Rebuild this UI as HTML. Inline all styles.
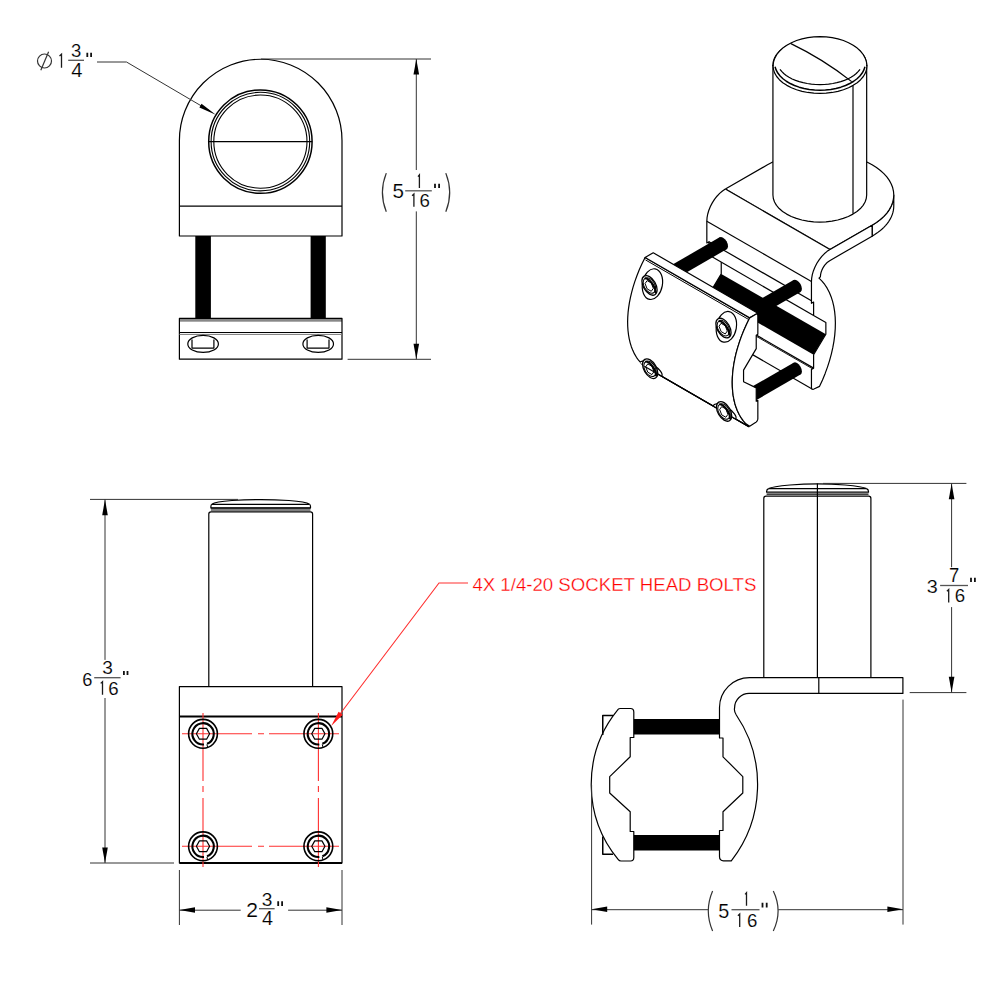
<!DOCTYPE html>
<html><head><meta charset="utf-8">
<style>
html,body{margin:0;padding:0;background:#fff;width:1000px;height:1000px;overflow:hidden}
svg{display:block}
.o{fill:none;stroke:#000;stroke-width:1.2;stroke-linejoin:round}
.d{fill:none;stroke:#333;stroke-width:1}
.r{fill:none;stroke:#ff3030;stroke-width:1.1}
.ar{fill:#000;stroke:none}
.blk{fill:#000;stroke:none}
text{font-family:"Liberation Sans",sans-serif;fill:#222}
.t1{fill:none;stroke:#1a1a1a;stroke-width:1.3;stroke-linejoin:miter}
.tb{stroke:#555;stroke-width:1.3}
.tq{stroke:#111;stroke-width:1.8}
.tp{fill:none;stroke:#333;stroke-width:1.2}
</style></head>
<body>
<svg width="1000" height="1000" viewBox="0 0 1000 1000">
<defs>
<g id="bolt">
    <circle class="o" cx="0" cy="0" r="14.4" style="stroke-width:1.6"/>
    <path class="o" d="M4,10 A10.7,10.7 0 1 0 1,10.7" style="stroke-width:2.1"/>
    <path class="o" d="M3.9,10.6 L4.7,13.6" style="stroke-width:1"/>
    <path class="o" d="M-6.6,0 L-3.6,-5.4 L3.6,-5.4 L6.6,0 L3.6,5.4 L-3.6,5.4 Z" style="stroke-width:1.2"/>
  </g>
  <g id="isocb">
    <ellipse cx="0" cy="0" rx="10" ry="15.5" transform="rotate(10)" class="o" style="fill:#fff;stroke-width:1.2"/>
  </g>
  <g id="isohead">
    <ellipse cx="0" cy="0" rx="10.75" ry="6.2" transform="translate(-2.9,1.25) rotate(60)" class="o" style="fill:#fff;stroke-width:1.3"/>
    <path d="M-8.3,-5.5 A10.75,6.2 60 0 1 2.4,9.2" transform="translate(0.6,-0.4)" class="o" style="stroke-width:2"/>
    <ellipse cx="0" cy="0" rx="8.4" ry="5.3" transform="translate(-3.0,1.3) rotate(60)" class="o" style="stroke-width:1"/>
    <path d="M0.94,4.19 L-1.13,7.14 L-5.27,4.75 L-7.34,-0.59 L-5.27,-3.54 L-1.13,-1.15 Z" class="o" style="stroke-width:1"/>
  </g>
</defs>


<!-- ================= VIEW 1 : top-left front ================= -->
<g id="v1">
  <path class="o" d="M179.4,236 V140.5 A81.3,81.3 0 0 1 342,140.5 V236 Z"/>
  <line class="o" x1="179.4" y1="206.2" x2="342" y2="206.2"/>
  <circle class="o" cx="260.4" cy="141.6" r="51.7" style="stroke-width:1.5"/>
  <circle class="o" cx="260.4" cy="141.6" r="49.3" style="stroke-width:1.1"/>
  <circle class="o" cx="260.4" cy="141.6" r="46.6" style="stroke-width:1.1"/>
  <line class="o" x1="208.7" y1="141.6" x2="312.1" y2="141.6"/>
  <!-- rods -->
  <rect class="blk" x="195.3" y="236" width="15.6" height="82.5"/>
  <rect class="blk" x="310.6" y="236" width="15.2" height="82.5"/>
  <!-- lower plate -->
  <rect x="179.4" y="318.4" width="162.6" height="3.3" fill="#888" stroke="none"/>
  <rect class="o" x="179.4" y="318.4" width="162.6" height="40.8"/>
  <line class="o" x1="179.4" y1="332.5" x2="342" y2="332.5"/>
  <line class="o" x1="179.4" y1="334.4" x2="342" y2="334.4" style="stroke:#777;stroke-width:1"/>
  <ellipse class="o" cx="203.1" cy="343.9" rx="15.3" ry="8.5"/>
  <path class="o" d="M192,339.4 V348.1 H213.9 V339.4"/>
  <ellipse class="o" cx="318.2" cy="343.9" rx="15.3" ry="8.5"/>
  <path class="o" d="M307.1,339.4 V348.1 H329 V339.4"/>
  <!-- dims -->
  <line class="d" x1="261" y1="59" x2="431" y2="59"/>
  <line class="d" x1="347.6" y1="359.3" x2="431" y2="359.3"/>
  <line class="d" x1="416.3" y1="59" x2="416.3" y2="170"/>
  <line class="d" x1="416.3" y1="211.4" x2="416.3" y2="359.3"/>
  <path class="ar" d="M416.3,59 L419.1,74.5 L413.5,74.5 Z"/>
  <path class="ar" d="M416.3,359.3 L419.1,343.8 L413.5,343.8 Z"/>
  <!-- leader -->
  <path class="d" d="M97,62 H126.5 L210,111"/>
  <path class="ar" d="M215.8,114.7 L201.5,103.7 L199.4,107.6 Z"/>
</g>

<!-- ================= VIEW 3 : bottom-left front ================= -->
<g id="v3">
  <path class="o" d="M212,504.2 Q215,501.6 232,500.5 Q260.7,498.7 289,500.5 Q306,501.6 309.4,504.2"/>
  <path class="o" d="M212,504.3 H309.4"/>
  <path class="o" d="M212,504.3 Q210.9,504.8 210.9,506.6 V507.9 H310.5 V506.6 Q310.5,504.8 309.4,504.3"/>
  <path d="M210.9,508.2 H310.5 M210.9,510 H310.5" stroke="#000" stroke-width="1" fill="none"/>
  <path class="o" d="M208.8,686.6 V514 Q208.8,511.8 211,511.8 H310.5 Q312.6,511.8 312.6,514 V686.6"/>
  <rect class="o" x="179.4" y="686.6" width="162.6" height="176.4"/>
  <line class="o" x1="179.4" y1="716.6" x2="342" y2="716.6" style="stroke-width:2"/>
  <line class="o" x1="179.4" y1="863" x2="342" y2="863" style="stroke-width:2"/>
  <!-- red center lines -->
  <path class="r" d="M182,733.8 H252 M258,733.8 H264 M269,733.8 H339"/>
  <path class="r" d="M182,846.3 H252 M258,846.3 H264 M269,846.3 H339"/>
  <path class="r" d="M203,713 V781 M203,786 V792 M203,798 V867"/>
  <path class="r" d="M318.4,713 V781 M318.4,786 V792 M318.4,798 V867"/>
  <!-- bolts -->
  
  <use href="#bolt" transform="translate(203,733.8)"/>
  <use href="#bolt" transform="translate(318.35,733.8)"/>
  <use href="#bolt" transform="translate(203,846.3)"/>
  <use href="#bolt" transform="translate(318.35,846.3)"/>
  <!-- red leader -->
  <path class="r" d="M468,583 H439 L337,718"/>
  <path d="M331.2,726 L338.6,711.7 L342.7,714.8 Z" fill="#ff1a1a"/>
  <!-- dims -->
  <line class="d" x1="90" y1="499.4" x2="238" y2="499.4"/>
  <line class="d" x1="90" y1="863" x2="174" y2="863"/>
  <line class="d" x1="105" y1="499.4" x2="105" y2="659.9"/>
  <line class="d" x1="105" y1="698" x2="105" y2="863"/>
  <path class="ar" d="M105,499.4 L107.8,515.2 L102.2,515.2 Z"/>
  <path class="ar" d="M105,863 L107.8,847.5 L102.2,847.5 Z"/>
  <line class="d" x1="179.4" y1="870" x2="179.4" y2="925"/>
  <line class="d" x1="342" y1="870" x2="342" y2="925"/>
  <line class="d" x1="179.4" y1="910.2" x2="240.7" y2="910.2"/>
  <line class="d" x1="288.1" y1="910.2" x2="342" y2="910.2"/>
  <path class="ar" d="M179.4,910 L195,907.2 L195,912.8 Z"/>
  <path class="ar" d="M342,910 L326.4,907.2 L326.4,912.8 Z"/>
</g>

<!-- ================= VIEW 4 : side view ================= -->
<g id="v4">
  <path class="o" d="M768.6,488.6 Q772,486.6 790,485 Q817.5,482.6 845,485 Q863,486.6 866.5,488.6"/>
  <path class="o" d="M768.6,488.6 H866.5"/>
  <path class="o" d="M768.6,488.6 Q766.6,489.4 766.6,491.4 V492.2 H868.5 V491.4 Q868.5,489.4 866.5,488.6"/>
  <path d="M766.6,494.2 H868.5" stroke="#000" stroke-width="1.2" fill="none"/>
  <path class="o" d="M763.8,677.6 V498.4 Q763.8,496.2 766,496.2 H868.6 Q870.9,496.2 870.9,498.4 V677.6"/>
  <line class="o" x1="817.4" y1="483.4" x2="817.4" y2="677.6"/>
  <line class="o" x1="818.8" y1="677.6" x2="818.8" y2="693"/>
  <!-- plate + bend + right jaw -->
  <path class="o" d="M902.9,677.6 H749.5 A30,30 0 0 0 719.5,707.5 V738 H723 V756.8 L742.8,776.6 V793 L723,811.8 V830.5 H719.5 V856.6 Q719.5,860.8 723.5,860.8 H731.3 A124,124 0 0 0 736.3,715 Q733.8,711 734.6,707.8 A14.5,14.5 0 0 1 749.5,693.4 H902.9 Z"/>
  <!-- left jaw -->
  <path class="o" d="M620,708.5 H630.5 Q633.8,708.5 633.8,712 V737.5 H630.2 V756.8 L609.7,776.6 V793 L630.2,811.8 V831.5 H633.8 V857.5 Q633.8,861 630.5,861 H621 Q619.3,861 618.3,859.6 A118,118 0 0 1 617.3,710.4 Q618.3,708.5 620,708.5 Z"/>
  <path class="o" d="M613,715.5 H602.75 V735" style="stroke-width:1.5"/>
  <path class="o" d="M602.75,836.5 V854.25 H613" style="stroke-width:1.5"/>
  <!-- rods -->
  <rect class="blk" x="633.8" y="719" width="85.7" height="15.5"/>
  <rect class="blk" x="633.8" y="835" width="85.7" height="15.5"/>
  <!-- dims -->
  <line class="d" x1="823" y1="483.4" x2="966.4" y2="483.4"/>
  <line class="d" x1="909.7" y1="692.6" x2="966.4" y2="692.6"/>
  <line class="d" x1="951.6" y1="483.4" x2="951.6" y2="567.2"/>
  <line class="d" x1="951.6" y1="607.1" x2="951.6" y2="692.6"/>
  <path class="ar" d="M951.6,483.4 L954.4,499.2 L948.8,499.2 Z"/>
  <path class="ar" d="M951.6,692.6 L954.4,676.8 L948.8,676.8 Z"/>
  <line class="d" x1="591.6" y1="785" x2="591.6" y2="924.6"/>
  <line class="d" x1="903" y1="699.6" x2="903" y2="924.6"/>
  <line class="d" x1="591.6" y1="909.7" x2="708.1" y2="909.7"/>
  <line class="d" x1="778.2" y1="909.7" x2="903" y2="909.7"/>
  <path class="ar" d="M591.6,909.3 L607.2,906.5 L607.2,912.1 Z"/>
  <path class="ar" d="M903,909.3 L887.4,906.5 L887.4,912.1 Z"/>
</g>

<!-- ================= TEXT ================= -->
<g id="txt">
<circle cx="44.5" cy="61" r="7" class="tp"/>
<line x1="40.8" y1="70.3" x2="48.6" y2="51.8" class="tp"/>
<path d="M59.50,55.90 L61.50,54.20 V67.70" class="t1"/>
<line x1="68.20" y1="60.30" x2="84.00" y2="60.30" class="tb"/>
<text transform="translate(70.96,57.32) scale(1.011,1)" style="font-size:18.31px;fill:#000;stroke:#fff;stroke-width:0.15px">3</text>
<text transform="translate(71.20,76.80) scale(1.017,1)" style="font-size:19.86px;fill:#000;stroke:#fff;stroke-width:0.15px">4</text>
<path d="M87.30,52.80 V57.10 M91.10,52.80 V57.10" class="tq"/>
<path d="M386.30,173.10 Q378.50,192.45 386.30,211.80" class="tp"/>
<text transform="translate(392.47,198.41) scale(1.062,1)" style="font-size:19.43px;fill:#000;stroke:#fff;stroke-width:0.15px">5</text>
<path d="M418.00,176.60 L419.40,174.90 V188.00" class="t1"/>
<line x1="405.20" y1="190.80" x2="431.80" y2="190.80" class="tb"/>
<path d="M412.10,195.70 L413.90,194.00 V206.70" class="t1"/>
<text transform="translate(419.47,206.51) scale(1.006,1)" style="font-size:18.59px;fill:#000;stroke:#fff;stroke-width:0.15px">6</text>
<path d="M435.00,183.70 V187.90 M439.10,183.70 V187.90" class="tq"/>
<path d="M445.80,173.10 Q453.60,192.45 445.80,211.80" class="tp"/>
<text transform="translate(82.19,685.51) scale(0.960,1)" style="font-size:19.01px;fill:#000;stroke:#fff;stroke-width:0.15px">6</text>
<text transform="translate(102.13,674.41) scale(1.007,1)" style="font-size:19.01px;fill:#000;stroke:#fff;stroke-width:0.15px">3</text>
<line x1="94.20" y1="677.70" x2="120.60" y2="677.70" class="tb"/>
<path d="M100.70,683.40 L102.50,681.70 V694.70" class="t1"/>
<text transform="translate(108.37,694.51) scale(0.983,1)" style="font-size:19.01px;fill:#000;stroke:#fff;stroke-width:0.15px">6</text>
<path d="M123.90,671.00 V674.90 M127.50,671.00 V674.90" class="tq"/>
<text transform="translate(246.25,916.80) scale(1.070,1)" style="font-size:19.71px;fill:#000;stroke:#fff;stroke-width:0.15px">2</text>
<text transform="translate(261.83,905.51) scale(1.007,1)" style="font-size:19.01px;fill:#000;stroke:#fff;stroke-width:0.15px">3</text>
<line x1="259.00" y1="908.70" x2="274.60" y2="908.70" class="tb"/>
<text transform="translate(262.11,924.90) scale(1.012,1)" style="font-size:19.57px;fill:#000;stroke:#fff;stroke-width:0.15px">4</text>
<path d="M278.20,901.20 V906.00 M282.10,901.20 V906.00" class="tq"/>
<text transform="translate(926.71,592.51) scale(1.041,1)" style="font-size:19.01px;fill:#000;stroke:#fff;stroke-width:0.15px">3</text>
<text transform="translate(949.08,581.60) scale(0.944,1)" style="font-size:19.57px;fill:#000;stroke:#fff;stroke-width:0.15px">7</text>
<line x1="940.10" y1="585.50" x2="968.00" y2="585.50" class="tb"/>
<path d="M946.90,591.30 L948.70,589.60 V602.60" class="t1"/>
<text transform="translate(954.87,602.41) scale(0.983,1)" style="font-size:19.01px;fill:#000;stroke:#fff;stroke-width:0.15px">6</text>
<path d="M971.00,577.70 V581.90 M974.90,577.70 V581.90" class="tq"/>
<path d="M712.60,891.00 Q704.00,910.95 712.60,930.90" class="tp"/>
<text transform="translate(718.31,917.51) scale(1.019,1)" style="font-size:19.43px;fill:#000;stroke:#fff;stroke-width:0.15px">5</text>
<path d="M745.10,894.40 L746.50,892.70 V905.80" class="t1"/>
<line x1="731.50" y1="909.70" x2="759.50" y2="909.70" class="tb"/>
<path d="M737.90,915.70 L739.70,914.00 V927.10" class="t1"/>
<text transform="translate(746.97,926.91) scale(0.976,1)" style="font-size:19.15px;fill:#000;stroke:#fff;stroke-width:0.15px">6</text>
<path d="M762.50,902.80 V907.40 M766.70,902.80 V907.40" class="tq"/>
<path d="M773.30,891.00 Q782.90,910.95 773.30,930.90" class="tp"/>
<text x="472.4" y="591" style="font-size:18.7px;fill:#ff0000;stroke:#fff;stroke-width:0.3px" textLength="284" lengthAdjust="spacingAndGlyphs">4X 1/4-20 SOCKET HEAD BOLTS</text>

</g>

<!-- ================= VIEW 2 : isometric ================= -->
<g id="v2">
<path class="o" d="M872.11,225.19 L874.77,223.57 L877.29,221.87 L879.65,220.09 L881.84,218.25 L883.86,216.34 L885.71,214.38 L887.38,212.36 L888.86,210.29 L890.15,208.18 L891.25,206.04 L892.16,203.87 L892.86,201.67 L893.37,199.45 L893.67,197.22 L893.78,194.99 L893.78,205.98 L893.67,208.22 L893.37,210.45 L892.86,212.66 L892.16,214.86 L891.25,217.04 L890.15,219.18 L888.86,221.29 L887.38,223.35 L885.71,225.37 L883.86,227.34 L881.84,229.24 L879.65,231.09 L877.29,232.86 L874.77,234.56 L872.11,236.18 Z" style="fill:#fff"/>
<path class="o" d="M725.38,189.10 L767.49,164.78 L767.49,164.78 L772.25,162.27 L777.37,160.00 L782.81,158.00 L788.53,156.28 L794.50,154.85 L800.65,153.73 L806.95,152.92 L813.35,152.44 L819.80,152.27 L826.25,152.44 L832.64,152.92 L838.94,153.73 L845.10,154.85 L851.06,156.28 L856.79,158.00 L862.23,160.00 L867.35,162.27 L872.11,164.78 L876.47,167.53 L880.40,170.49 L883.86,173.63 L886.84,176.94 L889.31,180.38 L891.25,183.93 L892.65,187.57 L893.49,191.26 L893.78,194.99 L893.49,198.71 L892.65,202.40 L891.25,206.04 L889.31,209.59 L886.84,213.04 L883.86,216.34 L880.40,219.48 L876.47,222.44 L872.11,225.19 L830.00,249.50 Z" style="fill:#fff"/>
<path class="o" d="M772.93,64.97 L772.93,194.99 L772.93,194.99 L773.33,198.52 L774.52,201.99 L776.50,205.34 L779.21,208.52 L782.61,211.46 L786.66,214.12 L791.27,216.46 L796.36,218.42 L801.86,219.99 L807.67,221.13 L813.68,221.82 L819.80,222.05 L825.92,221.82 L831.93,221.13 L837.73,219.99 L843.23,218.42 L848.33,216.46 L852.94,214.12 L856.98,211.46 L860.39,208.52 L863.10,205.34 L865.07,201.99 L866.27,198.52 L866.67,194.99 L866.67,64.97 L866.67,64.97 L866.27,61.43 L865.07,57.96 L863.10,54.61 L860.39,51.44 L856.98,48.49 L852.94,45.83 L848.33,43.50 L843.23,41.53 L837.73,39.97 L831.93,38.83 L825.92,38.14 L819.80,37.91 L813.68,38.14 L807.67,38.83 L801.86,39.97 L796.36,41.53 L791.27,43.50 L786.66,45.83 L782.61,48.49 L779.21,51.44 L776.50,54.61 L774.52,57.96 L773.33,61.43 L772.93,64.97 Z" style="fill:#fff"/>
<path class="o" d="M773.10,66.00 L773.50,62.16 L774.70,58.39 L776.67,54.75 L779.38,51.30 L782.79,48.10 L786.84,45.21 L791.45,42.68 L796.55,40.54 L802.05,38.84 L807.86,37.60 L813.88,36.85 L820.00,36.60 L826.12,36.85 L832.14,37.60 L837.95,38.84 L843.45,40.54 L848.55,42.68 L853.16,45.21 L857.21,48.10 L860.62,51.30 L863.33,54.75 L865.30,58.39 L866.50,62.16 L866.90,66.00 L866.90,66.00 L866.50,69.58 L865.30,73.09 L863.33,76.49 L860.62,79.70 L857.21,82.68 L853.16,85.37 L848.55,87.74 L843.45,89.73 L837.95,91.31 L832.14,92.47 L826.12,93.17 L820.00,93.40 L813.88,93.17 L807.86,92.47 L802.05,91.31 L796.55,89.73 L791.45,87.74 L786.84,85.37 L782.79,82.68 L779.38,79.70 L776.67,76.49 L774.70,73.09 L773.50,69.58 L773.10,66.00 Z" style="fill:#fff"/>
<path class="o" d="M775.04,66.79 L776.11,69.96 L777.81,73.04 L780.10,75.98 L782.96,78.73 L786.35,81.26 L790.21,83.53 L794.50,85.51 L799.15,87.16 L804.10,88.48 L809.27,89.43 L814.60,90.01 L820.00,90.20 L825.40,90.01 L830.73,89.43 L835.90,88.48 L840.85,87.16 L845.50,85.51 L849.79,83.53 L853.65,81.26 L857.04,78.73 L859.90,75.98 L862.19,73.04 L863.89,69.96 L864.96,66.79" style="stroke-width:1.5"/>
<path class="o" d="M779.97,69.27 L781.66,71.45 L783.74,73.53 L786.20,75.48 L789.01,77.29 L792.15,78.93 L795.57,80.39 L799.24,81.65 L803.13,82.69 L807.19,83.52 L811.39,84.12 L815.67,84.48 L820.00,84.60 L824.33,84.48 L828.61,84.12 L832.81,83.52 L836.87,82.69 L840.76,81.65 L844.43,80.39 L847.85,78.93 L850.99,77.29 L853.80,75.48 L856.26,73.53 L858.34,71.45 L860.03,69.27"/>
<path class="o" d="M772.93,66 V64.97 M866.67,66 V64.97"/>
<path class="o" d="M853,85.5 V213.7"/>
<path class="o" d="M790.9,43.65 Q823,59 851.7,81.6"/>
<path class="o" d="M872.11,225.19 L872.11,236.18"/>
<path d="M725.38,189.02 L722.48,190.96 L827.10,251.37 L830.00,249.43 Z" fill="#fff" stroke="#fff" stroke-width="0.5"/>
<path d="M722.48,190.96 L719.65,193.38 L824.27,253.79 L827.10,251.37 Z" fill="#fff" stroke="#fff" stroke-width="0.5"/>
<path d="M719.65,193.38 L716.96,196.22 L821.58,256.63 L824.27,253.79 Z" fill="#fff" stroke="#fff" stroke-width="0.5"/>
<path d="M716.96,196.22 L714.48,199.41 L819.10,259.81 L821.58,256.63 Z" fill="#fff" stroke="#fff" stroke-width="0.5"/>
<path d="M714.48,199.41 L712.26,202.87 L816.88,263.28 L819.10,259.81 Z" fill="#fff" stroke="#fff" stroke-width="0.5"/>
<path d="M712.26,202.87 L710.37,206.52 L814.99,266.92 L816.88,263.28 Z" fill="#fff" stroke="#fff" stroke-width="0.5"/>
<path d="M710.37,206.52 L708.85,210.26 L813.47,270.67 L814.99,266.92 Z" fill="#fff" stroke="#fff" stroke-width="0.5"/>
<path d="M708.85,210.26 L707.74,214.01 L812.36,274.42 L813.47,270.67 Z" fill="#fff" stroke="#fff" stroke-width="0.5"/>
<path d="M707.74,214.01 L707.06,217.67 L811.68,278.08 L812.36,274.42 Z" fill="#fff" stroke="#fff" stroke-width="0.5"/>
<path d="M707.06,217.67 L706.83,221.15 L811.45,281.56 L811.68,278.08 Z" fill="#fff" stroke="#fff" stroke-width="0.5"/>
<path d="M706.83,221.15 L706.83,242.93 L811.45,303.34 L811.45,281.56 Z" fill="#fff" stroke="#fff" stroke-width="0.5"/>
<path d="M706.83,242.93 L708.99,241.68 L813.61,302.09 L811.45,303.34 Z" fill="#fff" stroke="#fff" stroke-width="0.5"/>
<path d="M708.99,241.68 L708.99,255.10 L813.61,315.51 L813.61,302.09 Z" fill="#fff" stroke="#fff" stroke-width="0.5"/>
<path d="M708.99,255.10 L721.24,262.17 L825.86,322.58 L813.61,315.51 Z" fill="#fff" stroke="#fff" stroke-width="0.5"/>
<path d="M721.24,262.17 L721.24,273.88 L825.86,334.29 L825.86,322.58 Z" fill="#fff" stroke="#fff" stroke-width="0.5"/>
<path d="M721.24,273.88 L708.99,294.37 L813.61,354.78 L825.86,334.29 Z" fill="#fff" stroke="#fff" stroke-width="0.5"/>
<path d="M708.99,294.37 L708.99,307.73 L813.61,368.13 L813.61,354.78 Z" fill="#fff" stroke="#fff" stroke-width="0.5"/>
<path d="M708.99,307.73 L706.83,308.98 L811.45,369.38 L813.61,368.13 Z" fill="#fff" stroke="#fff" stroke-width="0.5"/>
<path d="M706.83,308.98 L706.83,327.18 L811.45,387.59 L811.45,369.38 Z" fill="#fff" stroke="#fff" stroke-width="0.5"/>
<path d="M706.83,327.18 L709.30,328.75 L813.92,389.16 L811.45,387.59 Z" fill="#fff" stroke="#fff" stroke-width="0.5"/>
<path class="o" d="M725.38,189.10 L830.00,249.50"/>
<path class="o" d="M706.83,221.15 L811.45,281.56"/>
<path class="o" d="M708.99,241.68 L813.61,302.09"/>
<path class="o" d="M708.99,255.10 L813.61,315.51"/>
<path class="o" d="M708.99,307.73 L813.61,368.13"/>
<path class="o" d="M707.45,328.61 L812.07,389.02"/>
<path class="o" d="M708.99,309.01 L813.61,369.42" style="stroke-width:0.9"/>
<path class="blk" d="M721.24,273.88 L708.99,294.37 L813.61,354.78 L825.86,334.29 Z"/>
<path class="o" d="M725.38,189.02 L722.48,190.96 L719.65,193.38 L716.96,196.22 L714.48,199.41 L712.26,202.87 L710.37,206.52 L708.85,210.26 L707.74,214.01 L707.06,217.67 L706.83,221.15 L706.83,242.93 L708.99,241.68 L708.99,255.10"/>
<path class="o" d="M721.24,262.17 L721.24,273.88 L708.99,294.37 L708.99,307.73 L706.83,308.98 L706.83,327.18"/>
<path class="o" d="M872.11,225.19 L830.00,249.50 L830.00,249.43 L827.10,251.37 L824.27,253.79 L821.58,256.63 L819.10,259.81 L816.88,263.28 L814.99,266.92 L813.47,270.67 L812.36,274.42 L811.68,278.08 L811.45,281.56 L811.45,303.34 L813.61,302.09 L813.61,315.51 L825.86,322.58 L825.86,334.29 L813.61,354.78 L813.61,368.13 L811.45,369.38 L811.45,387.59 L811.45,387.59 L811.64,388.57 L812.17,389.19 L812.98,389.34 L813.92,389.02 L819.56,386.35 L822.51,379.90 L825.17,373.40 L827.55,366.87 L829.62,360.34 L831.39,353.85 L832.84,347.42 L833.97,341.07 L834.77,334.84 L835.24,328.75 L835.38,322.83 L835.18,317.11 L834.65,311.61 L833.79,306.35 L832.60,301.36 L831.09,296.65 L829.27,292.26 L827.14,288.19 L824.71,284.47 L821.99,281.11 L819.00,278.13 L820.42,276.74 L820.59,274.55 L821.12,272.23 L821.98,269.89 L823.13,267.60 L824.54,265.45 L826.14,263.54 L827.88,261.92 L829.69,260.67 L872.11,236.18 Z" style="fill:#fff"/>
<path d="M673.01,272.24 L723.09,243.32" stroke="#000" stroke-width="13.82" fill="none"/>
<ellipse cx="0" cy="0" rx="6.91" ry="3.99" transform="translate(723.09,243.32) rotate(60)" fill="#000"/>
<path d="M746.96,314.94 L797.04,286.02" stroke="#000" stroke-width="13.82" fill="none"/>
<ellipse cx="0" cy="0" rx="6.91" ry="3.99" transform="translate(797.04,286.02) rotate(60)" fill="#000"/>
<path d="M746.96,397.55 L797.04,368.63" stroke="#000" stroke-width="13.82" fill="none"/>
<ellipse cx="0" cy="0" rx="6.91" ry="3.99" transform="translate(797.04,368.63) rotate(60)" fill="#000"/>
<path class="o" d="M645.09,257.45 L641.97,263.76 L639.27,269.84 L636.91,275.71 L634.88,281.40 L633.13,286.93 L631.65,292.30 L630.41,297.53 L629.42,302.62 L628.64,307.58 L628.09,312.42 L627.75,317.13 L627.62,321.72 L627.71,326.19 L628.00,330.54 L628.50,334.76 L629.23,338.86 L630.17,342.83 L631.35,346.66 L632.78,350.36 L634.47,353.90 L636.44,357.28 L638.72,360.48 L641.34,363.48 L644.36,366.25 L748.98,426.66 L745.96,423.88 L743.34,420.88 L741.06,417.68 L739.09,414.30 L737.40,410.76 L735.97,407.07 L734.79,403.23 L733.85,399.26 L733.12,395.17 L732.62,390.94 L732.33,386.59 L732.24,382.12 L732.37,377.53 L732.71,372.82 L733.26,367.99 L734.04,363.03 L735.03,357.93 L736.27,352.71 L737.75,347.33 L739.50,341.81 L741.53,336.12 L743.89,330.24 L746.59,324.16 L749.71,317.85 Z" style="fill:#fff"/>
<path class="o" d="M645.06,257.46 L653.22,252.75 L757.84,313.15 L749.68,317.87 Z" style="fill:#fff"/>
<path class="o" d="M645.49,259.92 L750.11,320.33" style="stroke-width:1"/>
<path class="o" d="M749.68,317.87 L755.49,314.51 L755.49,314.37 L756.39,314.05 L757.15,314.20 L757.66,314.79 L757.84,315.72 L757.84,334.29 L756.23,335.22 L756.23,348.64 L743.56,370.09 L743.56,381.80 L756.23,387.91 L756.23,401.26 L757.84,400.33 L757.84,418.54 L757.84,418.54 L757.66,419.68 L757.15,420.86 L756.39,421.88 L755.49,422.61 L749.68,426.25 L745.96,423.88 L743.34,420.88 L741.06,417.68 L739.09,414.30 L737.40,410.76 L735.97,407.07 L734.79,403.23 L733.85,399.26 L733.12,395.17 L732.62,390.94 L732.33,386.59 L732.24,382.12 L732.37,377.53 L732.71,372.82 L733.26,367.99 L734.04,363.03 L735.03,357.93 L736.27,352.71 L737.75,347.33 L739.50,341.81 L741.53,336.12 L743.89,330.24 L746.59,324.16 L749.71,317.85 Z" style="fill:#fff"/>
<clipPath id="cfclip"><path d="M645.09,257.45 L641.97,263.76 L639.27,269.84 L636.91,275.71 L634.88,281.40 L633.13,286.93 L631.65,292.30 L630.41,297.53 L629.42,302.62 L628.64,307.58 L628.09,312.42 L627.75,317.13 L627.62,321.72 L627.71,326.19 L628.00,330.54 L628.50,334.76 L629.23,338.86 L630.17,342.83 L631.35,346.66 L632.78,350.36 L634.47,353.90 L636.44,357.28 L638.72,360.48 L641.34,363.48 L644.36,366.25 L748.98,426.66 L745.96,423.88 L743.34,420.88 L741.06,417.68 L739.09,414.30 L737.40,410.76 L735.97,407.07 L734.79,403.23 L733.85,399.26 L733.12,395.17 L732.62,390.94 L732.33,386.59 L732.24,382.12 L732.37,377.53 L732.71,372.82 L733.26,367.99 L734.04,363.03 L735.03,357.93 L736.27,352.71 L737.75,347.33 L739.50,341.81 L741.53,336.12 L743.89,330.24 L746.59,324.16 L749.71,317.85 Z"/></clipPath>
<g transform="translate(652.41,284.13)"><use href="#isocb"/><use href="#isohead"/></g>
<g transform="translate(726.37,326.83)"><use href="#isocb"/><use href="#isohead"/></g>
<g clip-path="url(#cfclip)"><ellipse class="o" cx="0" cy="0" rx="13" ry="5.2" transform="translate(650.74,369.34) rotate(32)" style="fill:#fff"/></g>
<path class="o" d="M644.36,366.25 L748.98,426.66"/>
<g transform="translate(653.04,367.44)"><use href="#isohead"/></g>
<g clip-path="url(#cfclip)"><ellipse class="o" cx="0" cy="0" rx="13" ry="5.2" transform="translate(724.69,412.04) rotate(32)" style="fill:#fff"/></g>
<path class="o" d="M644.36,366.25 L748.98,426.66"/>
<g transform="translate(726.99,410.14)"><use href="#isohead"/></g>

</g>

</svg>
</body></html>
